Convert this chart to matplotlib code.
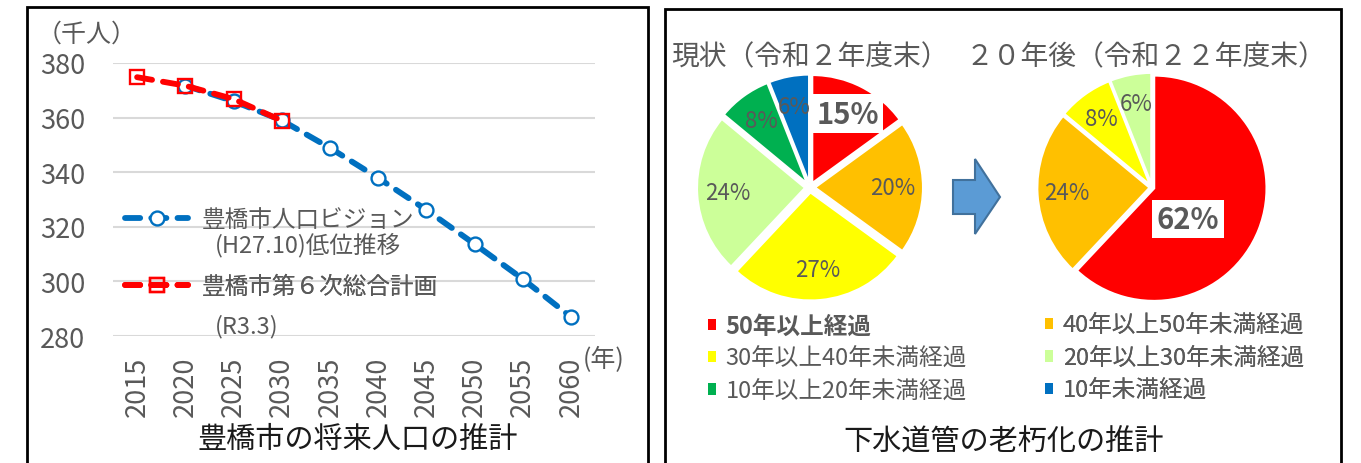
import matplotlib
matplotlib.use('Agg')
import matplotlib.pyplot as plt
from matplotlib.patches import Rectangle, Polygon, Patch
import numpy as np

plt.rcParams['font.family'] = ['Noto Sans CJK JP', 'DejaVu Sans']

# ---------------- data ----------------
years = ['2015', '2020', '2025', '2030', '2035', '2040', '2045', '2050', '2055', '2060']
vision = [np.nan, 371.7, 366.0, 359.0, 348.9, 337.9, 326.2, 313.7, 300.9, 287.0]
plan = [374.8, 371.7, 366.8, 358.9]
vision_label = ['豊橋市人口ビジョン', '(H27.10)低位推移']
plan_label = ['豊橋市第６次総合計画', '(R3.3)']

categories = ['50年以上経過', '40年以上50年未満経過', '30年以上40年未満経過',
              '20年以上30年未満経過', '10年以上20年未満経過', '10年未満経過']
now_share = [15, 20, 27, 24, 8, 6]
future_share = [62, 24, 8, 6]
cat_colors = ['#FF0000', '#FFC000', '#FFFF00', '#CCFF99', '#00B050', '#0070C0']

GRAY = '#595959'
W, H = 1361, 464
fig = plt.figure(figsize=(W / 100, H / 100), dpi=100)


def fx(px):
    return px / W


def fy(py):
    return 1 - py / H


# overlay axes in pixel coordinates (y up)
ax_o = fig.add_axes([0, 0, 1, 1])
ax_o.patch.set_alpha(0)

# ---------------- left: population line chart ----------------
ax = fig.add_axes([fx(113), fy(337), (595 - 113) / W, (337 - 64) / H])
ax.patch.set_alpha(0)
x = np.arange(len(years))
dash = (0, (2.6, 1.9))
l_blue, = ax.plot(x, vision, color='#0070C0', lw=4.2, ls=dash,
                  dash_capstyle='round', marker='o', ms=10, mfc='white',
                  mec='#0070C0', mew=1.7, clip_on=False, zorder=3)
l_red, = ax.plot(x[:len(plan)], plan, color='#FF0000', lw=4.2, ls=dash,
                 dash_capstyle='round', marker='s', ms=10.5, mfc='none',
                 mec='#FF0000', mew=1.7, clip_on=False, zorder=4)
ax.set_xlim(-0.5, len(years) - 0.5)
ax.set_ylim(280, 380)
ax.set_yticks(range(280, 381, 20))
ax.set_xticks(x)
ax.set_xticklabels(years, rotation=90)
ax.set_axisbelow(True)
ax.grid(axis='y', color='#D9D9D9', lw=1.5)
for s in ax.spines.values():
    s.set_visible(False)
ax.tick_params(axis='both', length=0, labelsize=19.5, labelcolor=GRAY)
ax.tick_params(axis='y', pad=20)
ax.tick_params(axis='x', pad=14)

leg1 = ax.legend(handles=[l_blue], labels=[vision_label[0]], loc='center left',
                 bbox_to_anchor=(fx(125), fy(221)), bbox_transform=fig.transFigure,
                 frameon=False, borderpad=0, borderaxespad=0, handlelength=2.67,
                 handletextpad=0.6, fontsize=17, labelcolor=GRAY)
ax.add_artist(leg1)
leg2 = ax.legend(handles=[l_red], labels=[plan_label[0]], loc='center left',
                 bbox_to_anchor=(fx(125), fy(288)), bbox_transform=fig.transFigure,
                 frameon=False, borderpad=0, borderaxespad=0, handlelength=2.67,
                 handletextpad=0.6, fontsize=17, labelcolor=GRAY)
ax.add_artist(leg2)
fig.text(fx(215), fy(245), vision_label[1], ha='left', va='center', fontsize=17, color=GRAY)
fig.text(fx(215), fy(327), plan_label[1], ha='left', va='center', fontsize=17, color=GRAY)

fig.text(fx(87), fy(35), '（千人）', ha='center', va='center', fontsize=18, color=GRAY)
fig.text(fx(604), fy(360), '(年)', ha='center', va='center', fontsize=18, color=GRAY)
fig.text(fx(358), fy(440), '豊橋市の将来人口の推計', ha='center', va='center',
         fontsize=21, color='#1a1a1a')

# ---------------- right: pies ----------------
w1, _, a1 = ax_o.pie(now_share, colors=cat_colors, startangle=90, counterclock=False,
                     center=(810, H - 188.5), radius=108, explode=[5] * len(now_share),
                     autopct='%.0f%%', pctdistance=0.72,
                     wedgeprops=dict(edgecolor='white', linewidth=1.5),
                     textprops=dict(color=GRAY, fontsize=16))
a1[0].set_fontweight('bold')
a1[0].set_fontsize(21)
a1[0].set_bbox(dict(facecolor='white', edgecolor='none', boxstyle='square,pad=0.15'))

w2, _, a2 = ax_o.pie(future_share, colors=cat_colors[:len(future_share)], startangle=90,
                     counterclock=False, center=(1152, H - 188.5), radius=113,
                     explode=[2] * len(future_share), autopct='%.0f%%', pctdistance=0.74,
                     wedgeprops=dict(edgecolor='white', linewidth=2),
                     textprops=dict(color=GRAY, fontsize=16))
a2[0].set_fontweight('bold')
a2[0].set_fontsize(21)
a2[0].set_position((1188, H - 220))
a2[0].set_bbox(dict(facecolor='white', edgecolor='none', boxstyle='square,pad=0.15'))

ax_o.set_xlim(0, W)
ax_o.set_ylim(0, H)
ax_o.set_aspect('auto')
ax_o.axis('off')

ax_o.text(810, H - 57, '現状（令和２年度末）', ha='center', va='center', fontsize=20, color=GRAY)
ax_o.text(1146, H - 57, '２０年後（令和２２年度末）', ha='center', va='center', fontsize=20, color=GRAY)

arrow = Polygon([(953, H - 181), (975, H - 181), (975, H - 160), (1000, H - 198),
                 (975, H - 235), (975, H - 215), (953, H - 215)], closed=True,
                facecolor='#5B9BD5', edgecolor='#41719C', lw=1.5)
ax_o.add_patch(arrow)

handles = [Patch(facecolor=c) for c in cat_colors]
order1 = [0, 2, 4]
order2 = [1, 3, 5]
legA = ax_o.legend(handles=[handles[i] for i in order1], labels=[categories[i] for i in order1],
                   loc='center left', bbox_to_anchor=(fx(708), fy(359)),
                   bbox_transform=fig.transFigure, frameon=False, borderpad=0,
                   borderaxespad=0, handlelength=0.35, handleheight=0.35,
                   handletextpad=0.4, labelspacing=0.4, fontsize=17, labelcolor=GRAY)
legA.get_texts()[0].set_fontweight('bold')
ax_o.add_artist(legA)
legB = ax_o.legend(handles=[handles[i] for i in order2], labels=[categories[i] for i in order2],
                   loc='center left', bbox_to_anchor=(fx(1045), fy(359)),
                   bbox_transform=fig.transFigure, frameon=False, borderpad=0,
                   borderaxespad=0, handlelength=0.35, handleheight=0.35,
                   handletextpad=0.4, labelspacing=0.4, fontsize=17, labelcolor=GRAY)
ax_o.add_artist(legB)

ax_o.text(1004, H - 443, '下水道管の老朽化の推計', ha='center', va='center',
          fontsize=21, color='#1a1a1a')

# panel borders
ax_o.add_patch(Rectangle((27, -10), 648 - 27, H - 8 + 10, fill=False, edgecolor='black', lw=2))
ax_o.add_patch(Rectangle((665, -10), 1341 - 665, H - 10 + 10, fill=False, edgecolor='black', lw=2))

fig.savefig('out.png', dpi=100)
